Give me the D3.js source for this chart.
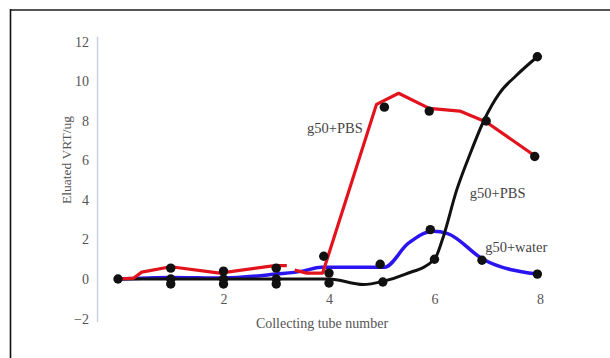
<!DOCTYPE html>
<html><head><meta charset="utf-8">
<script src="https://cdn.jsdelivr.net/npm/d3@7"></script>
<style>body{margin:0;background:#fff}svg{display:block}</style>
</head><body>
<svg id="c" width="610" height="358"></svg>
<script>
const yTicks = [-2, 0, 2, 4, 6, 8, 10, 12];
const xTicks = [2, 4, 6, 8];
const xTitle = "Collecting tube number";
const yTitle = "Eluated VRT/ug";

// red series (g50+PBS, straight segments; null = small gap)
const redX = [0, 0.3, 0.45, 1, 1.93, 2.97, 3.2, null, 3.35, 3.58, 3.88, 4.9, 5.32, 5.9, 6.48, 6.98, 7.92];
const redY = [0, 0.05, 0.35, 0.62, 0.3, 0.68, 0.68, null, 0.45, 0.3, 0.3, 8.84, 9.4, 8.64, 8.5, 7.95, 6.2];
// black series (g50+PBS, smooth)
const blackX = [0, 1, 2, 3, 4, 4.65, 5.02, 5.45, 6.0, 6.15, 6.42, 6.67, 6.95, 7.23, 7.55, 7.95];
const blackY = [0, 0, 0, 0, 0, -0.28, -0.12, 0.25, 1.0, 2.0, 4.5, 6.3, 8.1, 9.4, 10.3, 11.25];
// blue series (g50+water)
const blueX = [0, 1, 2, 3, 3.5, 3.85, 5.05, 5.5, 5.97, 6.25, 6.92, 7.95];
const blueY = [0, 0.08, 0.05, 0.25, 0.4, 0.6, 0.6, 1.8, 2.42, 2.3, 1.0, 0.25];
// black dot markers
const dotX = [0, 1, 1, 1, 2, 2, 2, 3, 3, 3, 3.9, 4, 4, 5.05, 4.97, 5.02, 5.9, 5.92, 6.0, 6.98, 6.9, 7.95, 7.9, 7.95];
const dotY = [0, 0.55, 0, -0.25, 0.4, 0, -0.25, 0.55, 0, -0.25, 1.15, 0.3, -0.2, 8.7, 0.75, -0.15, 8.5, 2.5, 1.0, 8.0, 0.95, 11.25, 6.2, 0.25];

const labels = ["g50+PBS", "g50+PBS", "g50+water"];
const labelX = [4.64, 6.67, 6.96];
const labelY = [7.65, 4.35, 1.62];

const svg = d3.select("#c");
const x = d3.scaleLinear().domain([0, 8]).range([118, 540]);
const y = d3.scaleLinear().domain([-2.15, 12.3]).range([321.5, 36]);
const font = "'Liberation Serif','Times New Roman',serif";

// frame
svg.append("line").attr("x1", 10).attr("x2", 610).attr("y1", 10).attr("y2", 10)
  .attr("stroke", "#555").attr("stroke-width", 2);
svg.append("line").attr("x1", 10.5).attr("x2", 10.5).attr("y1", 9).attr("y2", 358)
  .attr("stroke", "#111").attr("stroke-width", 1.6);

// y axis
const ya = svg.append("g").attr("transform", "translate(97,0)")
  .call(d3.axisLeft(y).tickValues(yTicks).tickSize(0).tickPadding(8).tickFormat(d3.format("d")));
ya.select(".domain").attr("stroke", "#c9d1e3").attr("stroke-width", 1.5);
ya.selectAll("text").attr("font-family", font).attr("font-size", 14).attr("fill", "#555");

// x axis (labels only)
const xa = svg.append("g").attr("transform", "translate(0,290)")
  .call(d3.axisBottom(x).tickValues(xTicks).tickSize(0).tickPadding(4).tickFormat(d3.format("d")));
xa.select(".domain").remove();
xa.selectAll("text").attr("font-family", font).attr("font-size", 14).attr("fill", "#555");

// titles
svg.append("text").attr("x", 322).attr("y", 328).attr("text-anchor", "middle")
  .attr("font-family", font).attr("font-size", 14).attr("fill", "#555").text(xTitle);
svg.append("text").attr("transform", "translate(66,160) rotate(-90)").attr("text-anchor", "middle")
  .attr("dy", "0.35em").attr("font-family", font).attr("font-size", 13.5).attr("fill", "#555").text(yTitle);

function pts(xs, ys) { return xs.map((v, i) => [v, ys[i]]); }

const blueLine = d3.line().x(d => x(d[0])).y(d => y(d[1])).curve(d3.curveMonotoneX);
svg.append("path").attr("d", blueLine(pts(blueX, blueY)))
  .attr("fill", "none").attr("stroke", "#2a14f0").attr("stroke-width", 3.5).attr("stroke-linejoin", "round");

const blackLine = d3.line().x(d => x(d[0])).y(d => y(d[1])).curve(d3.curveMonotoneX);
svg.append("path").attr("d", blackLine(pts(blackX, blackY)))
  .attr("fill", "none").attr("stroke", "#111").attr("stroke-width", 3).attr("stroke-linejoin", "round");

const redLine = d3.line().defined(d => d[0] !== null).x(d => x(d[0])).y(d => y(d[1]));
svg.append("path").attr("d", redLine(pts(redX, redY)))
  .attr("fill", "none").attr("stroke", "#e2131c").attr("stroke-width", 3.2).attr("stroke-linejoin", "round");

svg.append("g").selectAll("circle").data(pts(dotX, dotY)).join("circle")
  .attr("cx", d => x(d[0])).attr("cy", d => y(d[1])).attr("r", 4.7).attr("fill", "#111");

svg.append("g").selectAll("text").data(labels).join("text")
  .attr("x", (d, i) => x(labelX[i])).attr("y", (d, i) => y(labelY[i]))
  .attr("dy", "0.35em")
  .attr("font-family", font).attr("font-size", 14.5).attr("fill", "#444")
  .attr("text-anchor", (d, i) => i === 0 ? "end" : "start")
  .text(d => d);
</script>
</body></html>
